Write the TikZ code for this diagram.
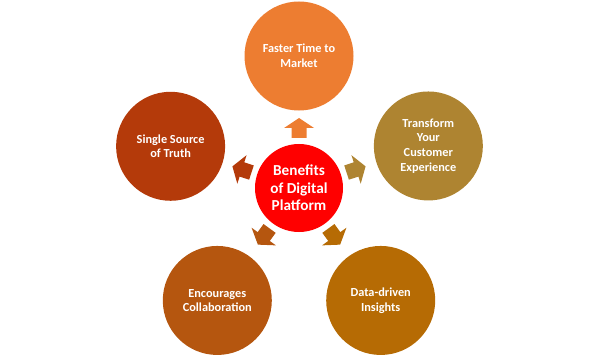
\documentclass[tikz,border=0pt]{standalone}
\usepackage{fontspec}
\setmainfont{Carlito}
\usetikzlibrary{positioning,calc}

\definecolor{hubred}{HTML}{FF0000}
\definecolor{fastercol}{HTML}{ED7D31}
\definecolor{transformcol}{HTML}{AE8431}
\definecolor{insightscol}{HTML}{B66B04}
\definecolor{collabcol}{HTML}{B5560F}
\definecolor{truthcol}{HTML}{B43A0A}

\begin{document}
\begin{tikzpicture}[
    x=0.03cm, y=0.03cm,
    hub/.style={circle, fill=hubred, text=white, align=center, minimum size=2.64cm, inner sep=0pt,
        font=\fontsize{13}{15}\selectfont\bfseries},
    benefit/.style={circle, text=white, align=center, minimum size=3.27cm, inner sep=0pt,
        font=\fontsize{10.5}{12.5}\selectfont\bfseries}
]
\useasboundingbox (0,0) rectangle (600,360);

\node[hub] (hub) at (299,172) {Benefits\\of Digital\\Platform};

\node[benefit, fill=fastercol] (faster) at ($(hub)+(90:132)$) {Faster Time to\\Market};
\node[benefit, fill=transformcol] (transform) at ($(hub)+(18:136)$) {Transform\\Your\\Customer\\Experience};
\node[benefit, fill=insightscol] (insights) at ($(hub)+(-54:139)$) {Data-driven\\Insights};
\node[benefit, fill=collabcol] (collab) at ($(hub)+(-126:139)$) {Encourages\\Collaboration};
\node[benefit, fill=truthcol] (truth) at ($(hub)+(162:135)$) {Single Source\\of Truth};

% block arrows from the hub outwards
\foreach \ang/\col in {90/fastercol, 18/transformcol, -54/insightscol, -126/collabcol, 162/truthcol}
    \fill[\col, shift={(hub.center)}, rotate=\ang]
        (50,-7.5) -- (60,-7.5) -- (60,-15) -- (70,0) -- (60,15) -- (60,7.5) -- (50,7.5) -- cycle;
\end{tikzpicture}
\end{document}
